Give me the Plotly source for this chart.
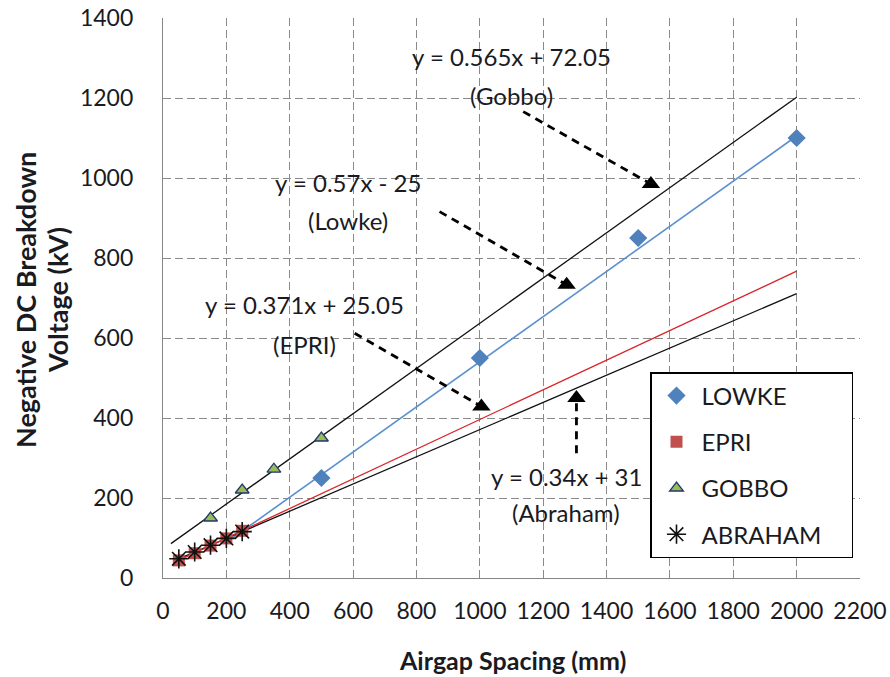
import plotly.graph_objects as go

# ---------------- data ----------------
lowke_x = [500, 1000, 1500, 2000]
lowke_y = [250, 550, 850, 1100]

epri_x = [50, 100, 150, 200, 250]
epri_y = [44, 62, 81, 99, 118]

gobbo_x = [150, 250, 350, 500]
gobbo_y = [150, 220, 272, 350]

abraham_x = [50, 100, 150, 200, 250]
abraham_y = [48, 65, 82, 99, 116]

# trendline end points
lowke_fit_x = [200, 2000]
lowke_fit_y = [89, 1105]
epri_fit_x = [50, 2000]
epri_fit_y = [44, 767]
gobbo_fit_x = [25, 2000]
gobbo_fit_y = [86, 1202]
abraham_fit_x = [50, 2000]
abraham_fit_y = [48, 711]

x_ticks = [0, 200, 400, 600, 800, 1000, 1200, 1400, 1600, 1800, 2000, 2200]
y_ticks = [0, 200, 400, 600, 800, 1000, 1200, 1400]

# callouts: equation text, label, text position, arrow start, arrow tip
callout_eq = ["y = 0.565x + 72.05", "y = 0.57x - 25", "y = 0.371x + 25.05", "y = 0.34x + 31"]
callout_name = ["(Gobbo)", "(Lowke)", "(EPRI)", "(Abraham)"]
callout_text_x = [1100, 585, 448, 1273]
callout_eq_y = [1305, 988, 683, 255]
callout_name_y = [1206, 893, 583, 163]
arrow_start_x = [1137, 873, 605, 1305]
arrow_start_y = [1166, 916, 612, 312]
arrow_tip_x = [1540, 1274, 1005, 1305]
arrow_tip_y = [985, 733, 429, 450]

FONT = "Lato"
TXT = "#1a1a22"

fig = go.Figure()

# trendlines
fig.add_trace(go.Scatter(x=lowke_fit_x, y=lowke_fit_y, mode="lines",
                         line=dict(color="#5B8FD0", width=1.6), showlegend=False, hoverinfo="skip"))
fig.add_trace(go.Scatter(x=gobbo_fit_x, y=gobbo_fit_y, mode="lines",
                         line=dict(color="#111111", width=1.3), showlegend=False, hoverinfo="skip"))
fig.add_trace(go.Scatter(x=abraham_fit_x, y=abraham_fit_y, mode="lines",
                         line=dict(color="#111111", width=1.3), showlegend=False, hoverinfo="skip"))
fig.add_trace(go.Scatter(x=epri_fit_x, y=epri_fit_y, mode="lines",
                         line=dict(color="#D9262B", width=1.3), showlegend=False, hoverinfo="skip"))

# data series
fig.add_trace(go.Scatter(x=lowke_x, y=lowke_y, mode="markers", name="LOWKE", legendgroup="a",
                         marker=dict(symbol="diamond", size=14, color="#4F81BD")))
fig.add_trace(go.Scatter(x=epri_x, y=epri_y, mode="markers", name="EPRI", legendgroup="b",
                         marker=dict(symbol="square", size=12, color="#C0504D")))
fig.add_trace(go.Scatter(x=gobbo_x, y=gobbo_y, mode="markers", name="GOBBO", legendgroup="c",
                         marker=dict(symbol="triangle-up", size=12, color="#9BBB59",
                                     line=dict(color="#1F3A6E", width=1.3))))
fig.add_trace(go.Scatter(x=abraham_x, y=abraham_y, mode="markers",
                         name="ABRAHAM" + "\u00a0" * 4, legendgroup="d",
                         marker=dict(symbol="asterisk-open", size=16, color="#111111",
                                     line=dict(color="#111111", width=1.6))))

# callout arrows (dashed lines + triangle heads)
for i in range(len(callout_eq)):
    fig.add_shape(type="line", xref="x", yref="y",
                  x0=arrow_start_x[i], y0=arrow_start_y[i], x1=arrow_tip_x[i], y1=arrow_tip_y[i],
                  line=dict(color="black", width=2.8, dash="8px,6px"))
fig.add_trace(go.Scatter(x=arrow_tip_x, y=arrow_tip_y, mode="markers", showlegend=False,
                         hoverinfo="skip",
                         marker=dict(symbol="triangle-up", size=16, color="black")))

for i in range(len(callout_eq)):
    fig.add_annotation(x=callout_text_x[i], y=callout_eq_y[i], xref="x", yref="y",
                       text=callout_eq[i], showarrow=False,
                       font=dict(family=FONT, size=24, color=TXT))
    fig.add_annotation(x=callout_text_x[i], y=callout_name_y[i], xref="x", yref="y",
                       text=callout_name[i], showarrow=False,
                       font=dict(family=FONT, size=24, color=TXT))

# axis titles
PW, PH, L, B = 697.0, 560.0, 163.0, 578.0
fig.add_annotation(x=(512 - L) / PW, y=(B - 660) / PH, xref="paper", yref="paper",
                   xanchor="center", yanchor="middle",
                   text="<b>Airgap Spacing (mm)</b>", showarrow=False,
                   font=dict(family=FONT, size=25, color=TXT))
fig.add_annotation(x=(25 - L) / PW, y=(B - 300) / PH, xref="paper", yref="paper",
                   xanchor="center", yanchor="middle",
                   text="<b>Negative DC Breakdown</b>", showarrow=False,
                   textangle=-90, font=dict(family=FONT, size=27, color=TXT))
fig.add_annotation(x=(57 - L) / PW, y=(B - 300) / PH, xref="paper", yref="paper",
                   xanchor="center", yanchor="middle",
                   text="<b>Voltage (kV)</b>", showarrow=False,
                   textangle=-90, font=dict(family=FONT, size=27, color=TXT))

axis_common = dict(showline=True, linecolor="#868686", linewidth=1.3,
                   showgrid=True, gridcolor="#8a8a8a", griddash="8px,4px", gridwidth=1.2,
                   ticks="", automargin=False,
                   tickfont=dict(family=FONT, size=23, color=TXT),
                   zeroline=False)

fig.update_layout(
    width=890, height=677,
    margin=dict(l=163, r=30, t=18, b=99, autoexpand=False),
    paper_bgcolor="white", plot_bgcolor="white",
    xaxis=dict(range=[0, 2200], tickvals=x_ticks, ticklabelstandoff=12, **axis_common),
    yaxis=dict(range=[0, 1400], tickvals=y_ticks, ticklabelstandoff=24, **axis_common),
    legend=dict(x=(650 - L) / PW, y=(B - 372) / PH, xanchor="left", yanchor="top",
                bgcolor="white", bordercolor="black", borderwidth=1.5,
                font=dict(family=FONT, size=24, color=TXT),
                tracegroupgap=12, itemwidth=40),
    showlegend=True,
)

fig.write_html("out.html")
